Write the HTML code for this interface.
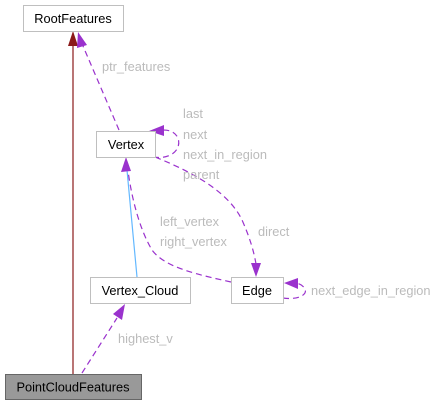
<!DOCTYPE html>
<html><head><style>
html,body{margin:0;padding:0;background:#fff;}
svg{display:block;}
text{font-family:"Liberation Sans",Arial,sans-serif;font-size:12.8px;}
.n{fill:#000;text-anchor:middle;}
.l{fill:#bbb;}
</style></head><body>
<svg width="440" height="405" viewBox="0 0 440 405">
<!-- red inheritance -->
<line x1="73" y1="374" x2="73" y2="46" stroke="#8b1a1a" stroke-width="1.2"/>
<polygon points="73,31 68,46 78,46" fill="#8b1a1a"/>
<!-- ptr_features -->
<path d="M119,130 L83,46" stroke="#9a32cd" stroke-width="1.2" fill="none" stroke-dasharray="6,4"/>
<polygon points="78,32 77,48 87,45" fill="#9a32cd"/>
<!-- Vertex self loop -->
<path d="M153,157 C170,160 182,150 178,138 C175,132 170,130 163,130" stroke="#9a32cd" stroke-width="1.2" fill="none" stroke-dasharray="6,4"/>
<polygon points="149,131 164,125 164,136" fill="#9a32cd"/>
<!-- direct -->
<path d="M155,157 C200,175 230,195 242,220 C250,238 254,252 256,264" stroke="#9a32cd" stroke-width="1.2" fill="none" stroke-dasharray="6,4"/>
<polygon points="256,277 251,263 261,263" fill="#9a32cd"/>
<!-- blue -->
<line x1="137" y1="277" x2="127" y2="170" stroke="#63b8ff" stroke-width="1.2"/>
<!-- left/right vertex -->
<path d="M231,282 C200,275 165,268 152,250 C140,230 132,200 128,171" stroke="#9a32cd" stroke-width="1.2" fill="none" stroke-dasharray="6,4"/>
<polygon points="126,157 121,172 131,171" fill="#9a32cd"/>
<!-- Edge self loop -->
<path d="M283,298 C295,300 308,296 305,289 C303,285 298,283 295,283" stroke="#9a32cd" stroke-width="1.2" fill="none" stroke-dasharray="6,4"/>
<polygon points="284,283 298,278 298,289" fill="#9a32cd"/>
<!-- highest_v -->
<path d="M82,373 L117,318" stroke="#9a32cd" stroke-width="1.2" fill="none" stroke-dasharray="6,4"/>
<polygon points="125,304 113,314 122,320" fill="#9a32cd"/>
<!-- nodes -->
<rect x="23.5" y="5.5" width="100" height="26" fill="#fff" stroke="#bfbfbf"/>
<text class="n" x="73" y="23">RootFeatures</text>
<rect x="96.5" y="131.5" width="59" height="26" fill="#fff" stroke="#bfbfbf"/>
<text class="n" x="126" y="149">Vertex</text>
<rect x="90.5" y="277.5" width="100" height="26" fill="#fff" stroke="#bfbfbf"/>
<text class="n" x="140" y="295">Vertex_Cloud</text>
<rect x="231.5" y="277.5" width="52" height="26" fill="#fff" stroke="#bfbfbf"/>
<text class="n" x="257" y="295">Edge</text>
<rect x="5.5" y="374.5" width="136" height="25" fill="#999" stroke="#666"/>
<text class="n" x="73" y="391.5">PointCloudFeatures</text>
<!-- labels -->
<text class="l" x="102" y="71">ptr_features</text>
<text class="l" x="183" y="118">last</text>
<text class="l" x="183" y="139">next</text>
<text class="l" x="183" y="159">next_in_region</text>
<text class="l" x="183" y="179">parent</text>
<text class="l" x="160" y="226">left_vertex</text>
<text class="l" x="160" y="246">right_vertex</text>
<text class="l" x="258" y="236">direct</text>
<text class="l" x="311" y="295">next_edge_in_region</text>
<text class="l" x="118" y="343">highest_v</text>
</svg>
</body></html>
